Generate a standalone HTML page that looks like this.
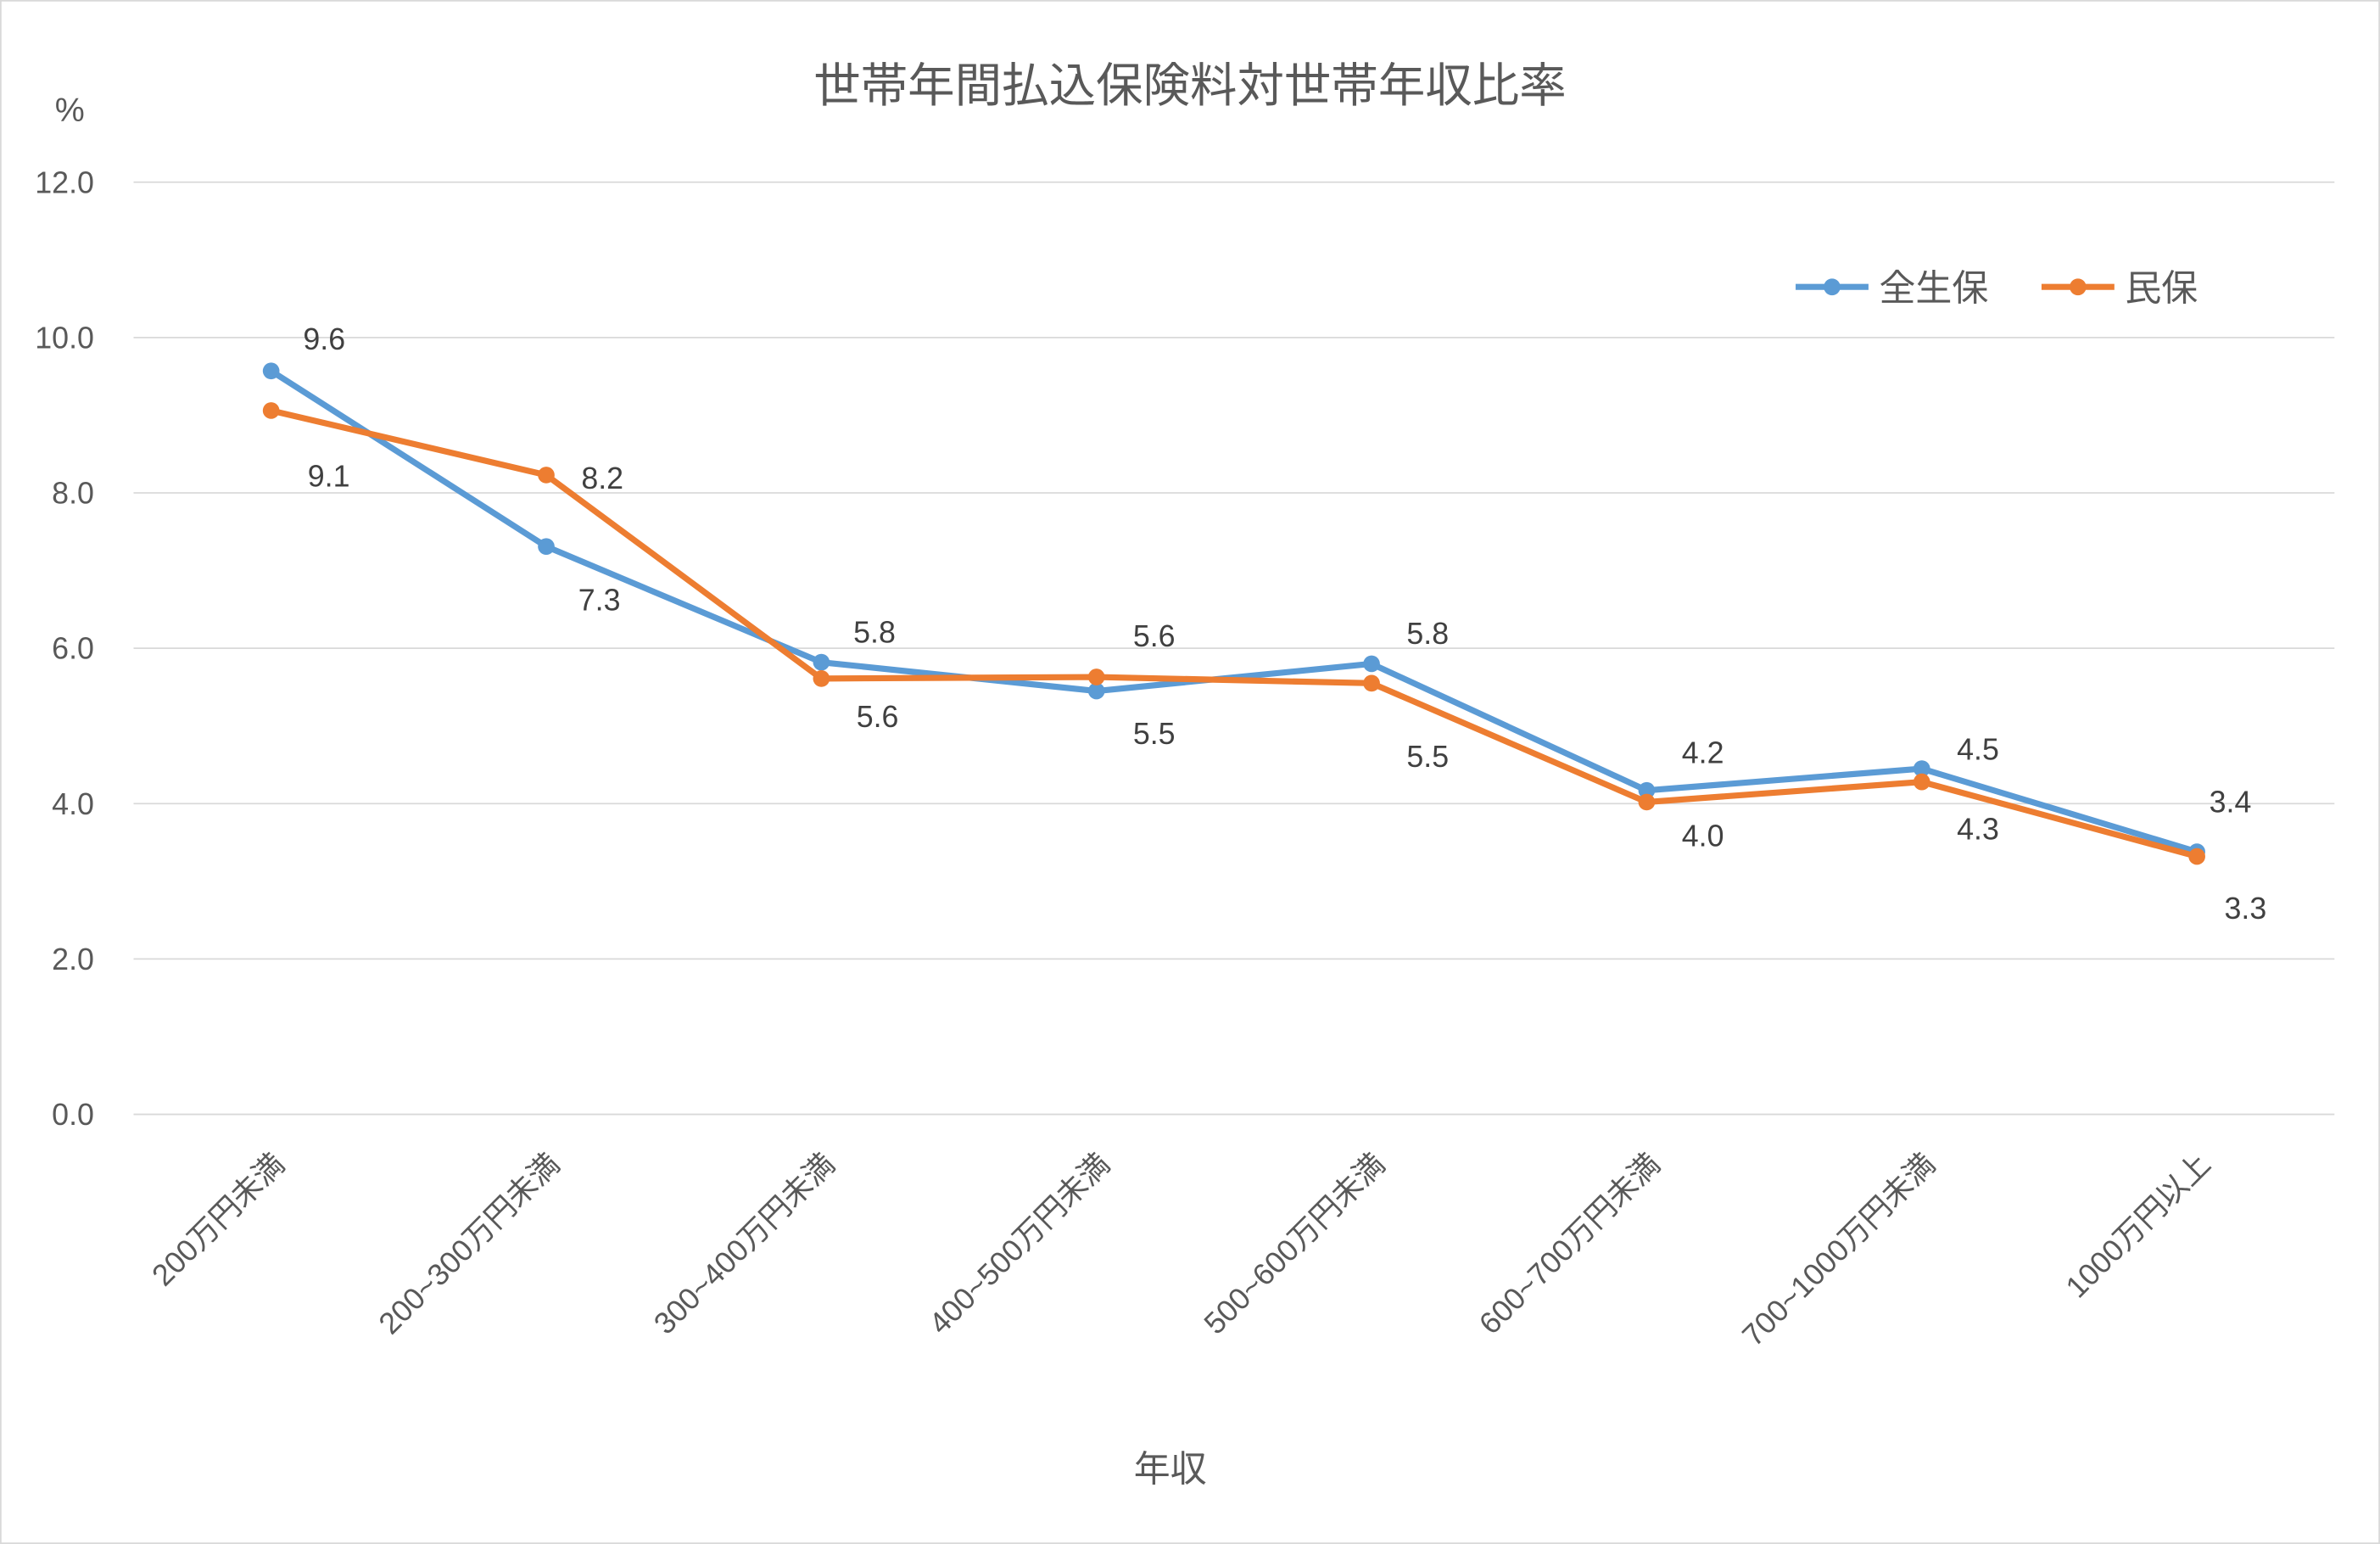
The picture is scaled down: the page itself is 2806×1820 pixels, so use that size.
<!DOCTYPE html>
<html><head><meta charset="utf-8"><style>
html,body{margin:0;padding:0;background:#fff;}
svg{display:block;font-family:"Liberation Sans","Noto Sans CJK JP",sans-serif;}
</style></head><body>
<svg id="chart" width="2806" height="1820" viewBox="0 0 1568 1017" preserveAspectRatio="none" xmlns="http://www.w3.org/2000/svg">
<rect x="0.5" y="0.5" width="1567" height="1016" fill="#fff" stroke="#d9d9d9" stroke-width="1"/>
<text x="784" y="67" font-size="31" fill="#595959" text-anchor="middle">世帯年間払込保険料対世帯年収比率</text>
<text x="46" y="80" font-size="22" fill="#595959" text-anchor="middle">%</text>
<text x="771" y="976" font-size="24" fill="#595959" text-anchor="middle">年収</text>
<g id="grid"></g>
<g id="xlabels"></g>
<g id="series"></g>
<g>
 <g>
  <line x1="1183" y1="189" x2="1231" y2="189" stroke="#5b9bd5" stroke-width="4"/>
  <circle cx="1207" cy="189" r="5.5" fill="#5b9bd5"/>
  <text x="1238" y="198" font-size="24" fill="#595959">全生保</text>
 </g>
 <g>
  <line x1="1345" y1="189" x2="1393" y2="189" stroke="#ed7d31" stroke-width="4"/>
  <circle cx="1369" cy="189" r="5.5" fill="#ed7d31"/>
  <text x="1400" y="198" font-size="24" fill="#595959">民保</text>
 </g>
</g>
</svg>
<script>
const categories = ["200万円未満","200~300万円未満","300~400万円未満","400~500万円未満","500~600万円未満","600~700万円未満","700~1000万円未満","1000万円以上"];
const zenseiho = [9.57,7.31,5.82,5.45,5.80,4.17,4.45,3.38];
const minpo = [9.06,8.23,5.61,5.63,5.55,4.02,4.28,3.32];
const yTicks = [0,2,4,6,8,10,12];
// label offsets (style, not data)
const offZ = [[35,-21],[35,35],[35,-20],[38,28],[37,-20],[37,-25],[37,-13],[22,-33]];
const offM = [[38,43],[37,2],[37,25],[38,-27],[37,48],[37,22],[37,31],[32,34]];
const NS="http://www.w3.org/2000/svg";
const x0=88,x1=1538,y0=734,y12=120;
const xs=i=>x0+(x1-x0)/categories.length*(i+0.5);
const ys=v=>y0-(y0-y12)*v/12;
function el(t,a,p){const e=document.createElementNS(NS,t);for(const k in a)e.setAttribute(k,a[k]);p.appendChild(e);return e;}
const grid=document.getElementById('grid');
yTicks.forEach(t=>{
 const l=el('line',{x1:x0,x2:x1,y1:ys(t),y2:ys(t),stroke:'#d9d9d9','stroke-width':1},grid);
 
 
 const tx=el('text',{x:62,y:ys(t)+7,'font-size':20,fill:'#595959','text-anchor':'end'},grid);
 tx.textContent=t.toFixed(1);
 
 
});
const xl=document.getElementById('xlabels');
categories.forEach((c,i)=>{
 const x=xs(i)+10,y=768;
 const t=el('text',{x:x,y:y,'font-size':20,fill:'#595959','text-anchor':'end',transform:`rotate(-45 ${x} ${y})`},xl);
 t.textContent=c;
 
 
});
const sg=document.getElementById('series');
function draw(vals,color,offs,name){
 const g=el('g',{},sg);
 
 
 const p=el('polyline',{points:vals.map((v,i)=>xs(i)+','+ys(v)).join(' '),fill:'none',stroke:color,'stroke-width':4,'stroke-linejoin':'round'},g);
 
 
 vals.forEach((v,i)=>{
  const c=el('circle',{cx:xs(i),cy:ys(v),r:5.5,fill:color},g);
  
  
 });
 return g;
}
function labels(vals,offs,name){
 const g=el('g',{},sg);
 
 
 vals.forEach((v,i)=>{
  const t=el('text',{x:xs(i)+offs[i][0],y:ys(v)+offs[i][1]+7,'font-size':20,fill:'#404040','text-anchor':'middle'},g);
  t.textContent=v.toFixed(1);
  
  
 });
}
draw(zenseiho,'#5b9bd5',offZ,'zenseiho-series');
draw(minpo,'#ed7d31',offM,'minpo-series');
labels(zenseiho,offZ,'zenseiho');
labels(minpo,offM,'minpo');
</script>
</body></html>
